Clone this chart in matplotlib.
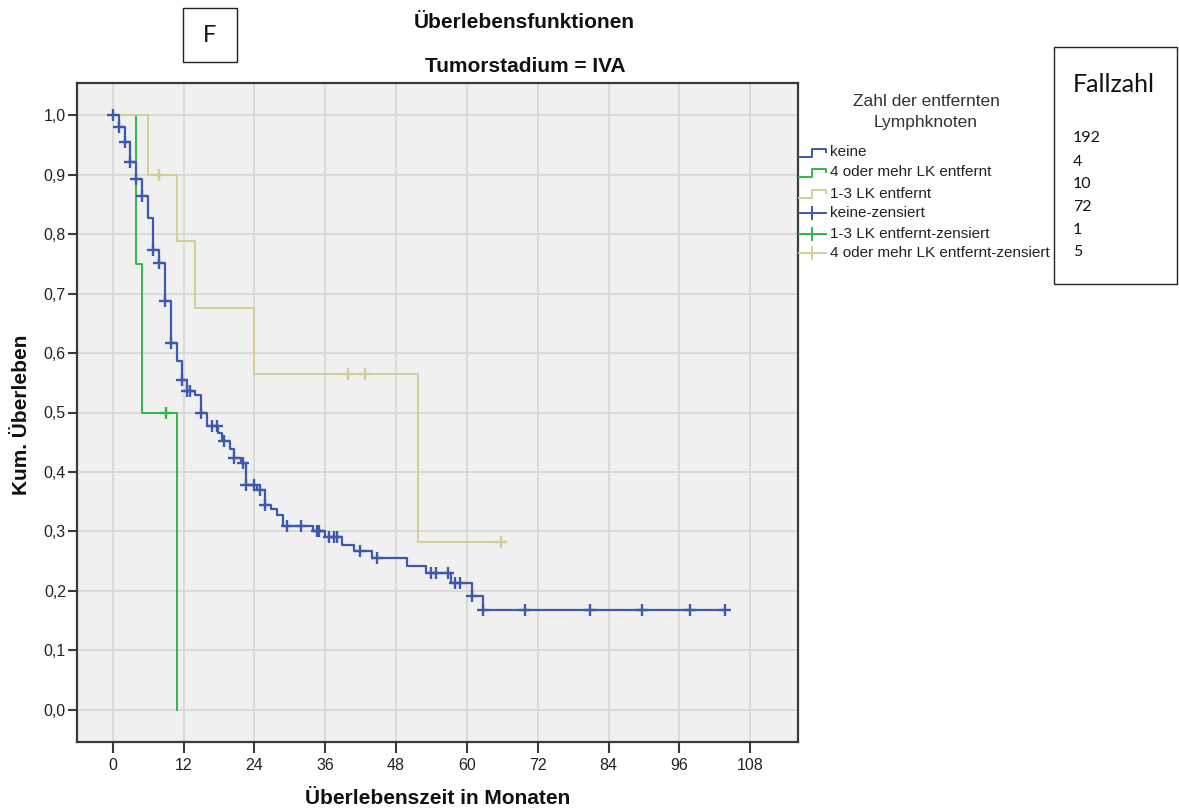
import numpy as np
import matplotlib
matplotlib.use('Agg')
import matplotlib.pyplot as plt
from matplotlib.lines import Line2D
from matplotlib.patches import Rectangle

plt.rcParams['font.family'] = ['Liberation Sans', 'DejaVu Sans']

# ---------------- data ----------------
title_lines = ['Überlebensfunktionen', 'Tumorstadium = IVA']
x_label = 'Überlebenszeit in Monaten'
y_label = 'Kum. Überleben'
x_ticks = [0, 12, 24, 36, 48, 60, 72, 84, 96, 108]
y_ticks = [0.0, 0.1, 0.2, 0.3, 0.4, 0.5, 0.6, 0.7, 0.8, 0.9, 1.0]
y_tick_labels = ['0,0', '0,1', '0,2', '0,3', '0,4', '0,5', '0,6', '0,7', '0,8', '0,9', '1,0']

legend_title_lines = ['Zahl der entfernten', 'Lymphknoten']
legend_labels = ['keine', '4 oder mehr LK entfernt', '1-3 LK entfernt',
                 'keine-zensiert', '1-3 LK entfernt-zensiert',
                 '4 oder mehr LK entfernt-zensiert']
fallzahl_title = 'Fallzahl'
fallzahl = [192, 4, 10, 72, 1, 5]
panel_letter = 'F'

# keine
keine_event_times = [1.0, 2.0, 3.0, 4.0, 4.95, 6.0, 6.8, 7.9, 8.9, 9.8, 10.9, 11.8,
                     12.6, 14.0, 14.9, 16.0, 17.9, 18.6, 19.8, 20.6, 21.7, 22.5,
                     24.5, 25.8, 26.8, 27.9, 28.8, 33.9, 35.9, 38.9, 40.9, 43.9,
                     49.9, 53.0, 57.3, 60.9, 62.8]
keine_event_surv = [0.980, 0.955, 0.921, 0.892, 0.864, 0.827, 0.773, 0.751, 0.687,
                    0.617, 0.586, 0.554, 0.536, 0.529, 0.500, 0.478, 0.466, 0.452,
                    0.438, 0.424, 0.415, 0.378, 0.370, 0.345, 0.337, 0.328, 0.309,
                    0.300, 0.290, 0.278, 0.267, 0.255, 0.242, 0.230, 0.213, 0.191,
                    0.168]
keine_censor_times = [0.0, 1.0, 2.0, 3.0, 4.0, 4.95, 6.8, 7.9, 8.9, 9.8, 11.8, 12.6,
                      13.1, 14.9, 16.9, 17.6, 18.8, 20.6, 22.0, 22.6, 24.0, 24.9,
                      25.8, 29.6, 31.9, 34.6, 35.0, 36.7, 37.5, 38.0, 41.9, 44.8,
                      53.9, 54.8, 56.8, 58.0, 58.8, 60.9, 62.8, 69.8, 80.8, 89.7,
                      97.8, 103.7]
keine_end = 103.7

# 4 oder mehr LK entfernt
viermehr_event_times = [4.0, 4.95, 10.9]
viermehr_event_surv = [0.75, 0.50, 0.0]
viermehr_censor_times = [9.1]
viermehr_end = 10.9

# 1-3 LK entfernt
einsdrei_event_times = [6.0, 10.9, 14.0, 23.9, 51.8]
einsdrei_event_surv = [0.900, 0.788, 0.676, 0.564, 0.282]
einsdrei_censor_times = [7.9, 39.8, 42.8, 65.7]
einsdrei_end = 65.7

C_BLUE = '#3E58AC'
C_GREEN = '#2EB848'
C_BEIGE = '#D3CE97'

# ---------------- figure ----------------
W, H = 1179, 809
fig = plt.figure(figsize=(W / 100, H / 100), dpi=100)
fig.patch.set_facecolor('white')


def fx(x):
    return x / W


def fy(y):
    return 1 - y / H


ax = fig.add_axes([fx(77), fy(742), fx(798) - fx(77), fy(83) - fy(742)])
ax.set_facecolor('#F0F0F0')
ax.set_xlim(-6.05, 116.1)
ax.set_ylim(-0.054, 1.054)
ax.set_xticks(x_ticks)
ax.set_xticklabels([str(t) for t in x_ticks])
ax.set_yticks(y_ticks)
ax.set_yticklabels(y_tick_labels)
ax.grid(True, color='#D8D8D8', linewidth=1.3)
ax.set_axisbelow(True)
for s in ax.spines.values():
    s.set_color('#3a3a3a')
    s.set_linewidth(1.6)
ax.tick_params(axis='x', direction='out', length=8, width=1.5, color='#3a3a3a',
               labelsize=11.5, pad=3.5, labelcolor='#222222')
ax.tick_params(axis='y', direction='out', length=6.5, width=1.5, color='#3a3a3a',
               labelsize=11.5, pad=1.5, labelcolor='#222222')


def surv_at(times, surv, t):
    idx = np.searchsorted(np.asarray(times), np.asarray(t), side='right')
    return np.r_[1.0, surv][idx]


def draw_curve(times, surv, end, censors, color, lw, z):
    xs = [0.0] + list(times) + ([end] if end > times[-1] else [])
    ys = [1.0] + list(surv) + ([surv[-1]] if end > times[-1] else [])
    ax.step(xs, ys, where='post', color=color, linewidth=lw, zorder=z)
    cy = surv_at(times, surv, censors)
    ax.plot(censors, cy, linestyle='none', marker='+', markersize=9,
            markeredgewidth=1.7, color=color, zorder=z + 0.5)


draw_curve(viermehr_event_times, viermehr_event_surv, viermehr_end,
           viermehr_censor_times, C_GREEN, 1.4, 3)
draw_curve(einsdrei_event_times, einsdrei_event_surv, einsdrei_end,
           einsdrei_censor_times, C_BEIGE, 1.4, 4)
draw_curve(keine_event_times, keine_event_surv, keine_end,
           keine_censor_times, C_BLUE, 1.6, 5)

# titles and axis labels
fig.text(fx(524), fy(22), title_lines[0], ha='center', va='center',
         fontsize=15, fontweight='bold', color='#111111')
fig.text(fx(525), fy(67), title_lines[1], ha='center', va='center',
         fontsize=15, fontweight='bold', color='#111111')
fig.text(fx(438), fy(799), x_label, ha='center', va='center',
         fontsize=15, fontweight='bold', color='#111111')
fig.text(fx(22), fy(415), y_label, ha='center', va='center', rotation=90,
         fontsize=15, fontweight='bold', color='#111111')

# legend (drawn manually, SPSS style)
for line, yy in zip(legend_title_lines, [102, 122]):
    fig.text(fx(926), fy(yy), line, ha='center', va='center',
             fontsize=12.5, color='#333333')
series_colors = [C_BLUE, C_GREEN, C_BEIGE, C_BLUE, C_GREEN, C_BEIGE]
row_y = [152.5, 172.5, 193.5, 213, 234, 253]
for i, (lab, col, yy) in enumerate(zip(legend_labels, series_colors, row_y)):
    if i < 3:
        gx = [799, 812, 812, 826, 826]
        gy = [yy + 4, yy + 4, yy - 4, yy - 4, yy - 1]
        fig.add_artist(Line2D([fx(v) for v in gx], [fy(v) for v in gy],
                              transform=fig.transFigure, color=col, linewidth=1.4))
    else:
        fig.add_artist(Line2D([fx(799), fx(826)], [fy(yy), fy(yy)],
                              transform=fig.transFigure, color=col, linewidth=1.4))
        fig.add_artist(Line2D([fx(812), fx(812)], [fy(yy - 6), fy(yy + 6)],
                              transform=fig.transFigure, color=col, linewidth=1.4))
    fig.text(fx(830), fy(yy), lab, ha='left', va='center', fontsize=11,
             color='#222222')

# Fallzahl box
fig.add_artist(Rectangle((fx(1054), fy(284)), fx(1177) - fx(1054), fy(47) - fy(284),
                         transform=fig.transFigure, fill=True, facecolor='white',
                         edgecolor='#222222', linewidth=1.0, zorder=10))
fig.text(fx(1073), fy(84), fallzahl_title, ha='left', va='center', fontsize=18,
         family=['Lato', 'DejaVu Sans'], color='#111111', zorder=11)
for n, yy in zip(fallzahl, [138, 161.5, 184, 207, 230, 252.5]):
    fig.text(fx(1073), fy(yy), str(n), ha='left', va='center', fontsize=11.5,
             family=['Lato', 'DejaVu Sans'], color='#111111', zorder=11)

# panel letter box
fig.add_artist(Rectangle((fx(183), fy(62)), fx(237) - fx(183), fy(8) - fy(62),
                         transform=fig.transFigure, fill=False,
                         edgecolor='#222222', linewidth=1.0))
fig.text(fx(210), fy(36), panel_letter, ha='center', va='center', fontsize=17,
         family=['Lato', 'DejaVu Sans'], color='#111111')

fig.savefig('out.png', dpi=100, facecolor='white')
